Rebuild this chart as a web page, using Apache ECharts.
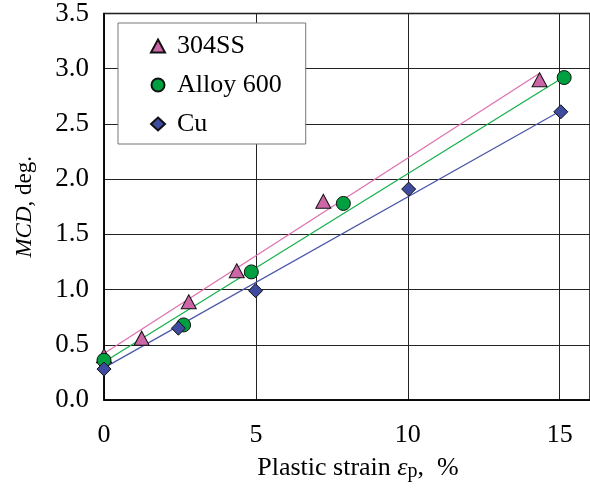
<!DOCTYPE html>
<html>
<head>
<meta charset="utf-8">
<script src="https://cdn.jsdelivr.net/npm/echarts@6/dist/echarts.min.js"></script>
<style>
html,body{margin:0;padding:0;background:#fff;}
#chart{width:590px;height:488px;}
</style>
</head>
<body>
<div id="chart"></div>
<script>
// Data
var seriesNames = ['304SS', 'Alloy 600', 'Cu'];
var strain304 = [0, 1.24, 2.79, 4.37, 7.22, 14.34];
var mcd304    = [0.40, 0.56, 0.89, 1.17, 1.80, 2.90];
var strain600 = [0, 2.62, 4.85, 7.88, 15.15];
var mcd600    = [0.36, 0.68, 1.16, 1.78, 2.92];
var strainCu  = [0, 2.45, 4.99, 10.03, 15.04];
var mcdCu     = [0.28, 0.65, 0.99, 1.91, 2.61];
// Fitted trend lines (end points)
var fit304X = [0, 14.34], fit304Y = [0.421, 2.96];
var fit600X = [0, 15.15], fit600Y = [0.345, 2.927];
var fitCuX  = [0, 15.04], fitCuY  = [0.291, 2.62];
var yTicks = [0, 0.5, 1.0, 1.5, 2.0, 2.5, 3.0, 3.5];
var xTicks = [0, 5, 10, 15];

function pairs(xs, ys){ return xs.map(function(x,i){ return [x, ys[i]]; }); }

var FONT = "'Liberation Serif', 'Times New Roman', serif";
var colors = {
  '304SS': {fill:'#CC66A6', line:'#DE6FB0', symbol:'triangle'},
  'Alloy 600': {fill:'#00A040', line:'#12B04A', symbol:'circle'},
  'Cu': {fill:'#3F4B9E', line:'#4A55A8', symbol:'diamond'}
};

var chart = echarts.init(document.getElementById('chart'), null, {renderer:'canvas'});

function lineSeries(name, xs, ys){
  return {
    type:'line', name: name + ' fit', data: pairs(xs, ys),
    symbol:'none', silent:true, z:2,
    lineStyle:{color: colors[name].line, width:1.2},
    clip:false
  };
}
function scatterSeries(name, xs, ys){
  return {
    type:'scatter', name:name, data: pairs(xs, ys),
    symbol: colors[name].symbol, symbolSize: name==='304SS' ? [15,14] : 14,
    itemStyle:{color: colors[name].fill, borderColor:'#111', borderWidth:1, opacity:1},
    z:3, clip:false
  };
}

var option = {
  animation:false,
  backgroundColor:'#fff',
  grid:{left:104, top:12, right:-4, bottom:88, show:true, borderColor:'#000', borderWidth:1.5, backgroundColor:'transparent'},
  legend:{
    orient:'vertical', left:118, top:23,
    data:seriesNames.map(function(n){ return {name:n, icon:colors[n].symbol}; }),
    itemWidth:14, itemHeight:13, itemGap:13,
    padding:[10,24,7,32],
    backgroundColor:'#fff', borderColor:'#777', borderWidth:1,
    textStyle:{fontFamily:FONT, fontSize:26, color:'#000', lineHeight:26, padding:[0,0,0,7]},
    selectedMode:false
  },
  xAxis:{
    type:'value', min:0, max:16, interval:5,
    name:'Plastic strain {e|ε}{s|p},  %', nameLocation:'middle', nameGap:54,
    nameTextStyle:{fontFamily:FONT, fontSize:26, color:'#000', padding:[0,0,0,22],
      rich:{e:{fontFamily:FONT, fontSize:26, fontStyle:'italic', color:'#000'},
            s:{fontFamily:FONT, fontSize:20, color:'#000', padding:[8,0,0,0]}}},
    axisLine:{show:true, lineStyle:{color:'#000', width:1.5}},
    axisTick:{show:false},
    axisLabel:{fontFamily:FONT, fontSize:26, color:'#000', margin:22, showMaxLabel:false,
      formatter:function(v){ return xTicks.indexOf(v) >= 0 ? String(v) : ''; }},
    splitLine:{show:true, lineStyle:{color:'#222', width:1}}
  },
  yAxis:{
    type:'value', min:0, max:3.5, interval:0.5,
    name:'{i|MCD}, deg.', nameLocation:'middle', nameGap:68, nameRotate:90,
    nameTextStyle:{fontFamily:FONT, fontSize:23, color:'#000',
      rich:{i:{fontFamily:FONT, fontSize:23, fontStyle:'italic', color:'#000'}}},
    axisLine:{show:true, lineStyle:{color:'#000', width:1.5}},
    axisTick:{show:false},
    axisLabel:{fontFamily:FONT, fontSize:27, color:'#000', margin:15,
      formatter:function(v){ return yTicks.indexOf(v) >= 0 ? v.toFixed(1) : ''; }},
    splitLine:{show:true, lineStyle:{color:'#222', width:1}}
  },
  series:[
    lineSeries('304SS', fit304X, fit304Y),
    lineSeries('Alloy 600', fit600X, fit600Y),
    lineSeries('Cu', fitCuX, fitCuY),
    scatterSeries('304SS', strain304, mcd304),
    scatterSeries('Alloy 600', strain600, mcd600),
    scatterSeries('Cu', strainCu, mcdCu)
  ]
};
chart.setOption(option);
</script>
</body>
</html>
